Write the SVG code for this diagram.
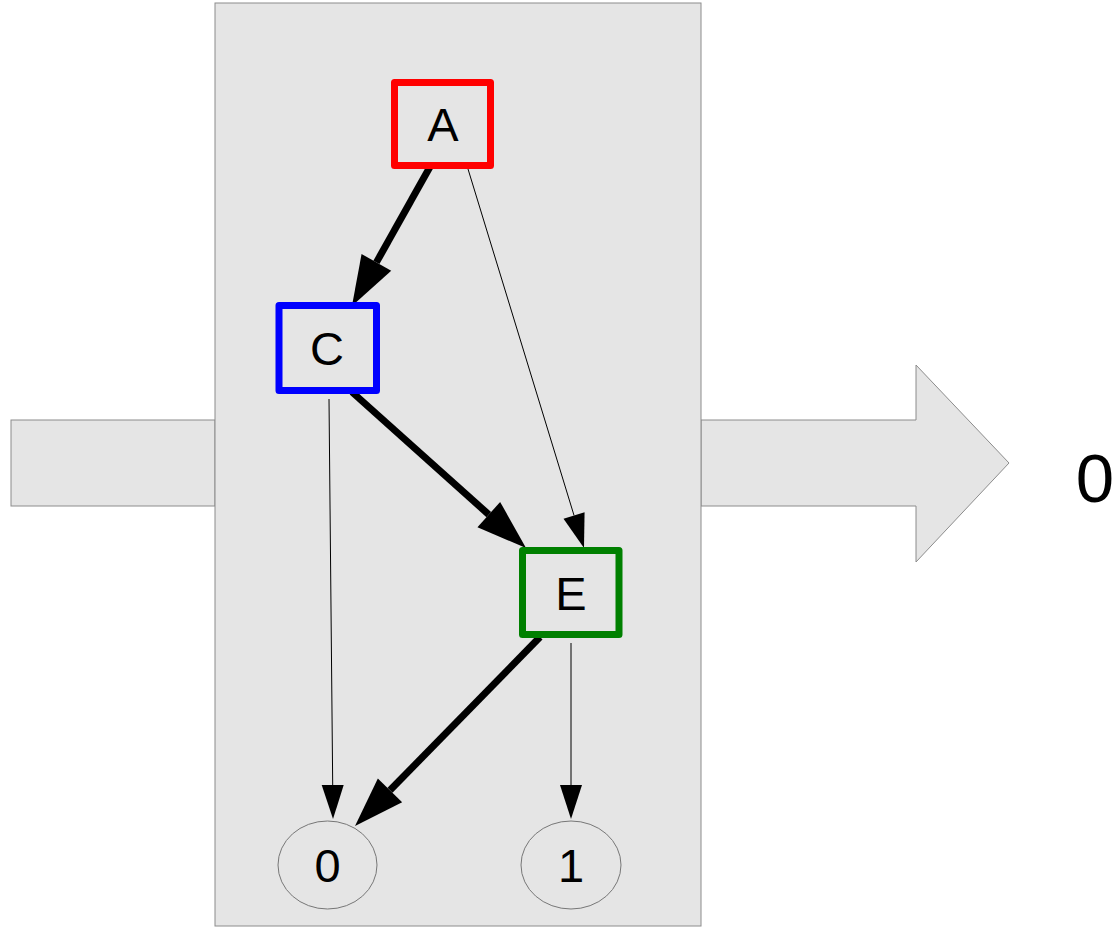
<svg xmlns="http://www.w3.org/2000/svg" width="1115" height="928" viewBox="0 0 1115 928">
<style>
.bg{fill:#e5e5e5;stroke:#8c8c8c;stroke-width:1}
.node{fill:#e5e5e5;stroke-width:7;stroke-linejoin:round}
.term{fill:#e5e5e5;stroke:#777;stroke-width:1}
.lbl{font-family:"Liberation Sans",Arial,sans-serif;font-size:47px;fill:#000;text-anchor:middle}
.thick{stroke:#000;stroke-width:7;fill:none;marker-end:url(#hThick)}
.thin{stroke:#000;stroke-width:1;fill:none;marker-end:url(#hThin)}
</style>
<defs>
<marker id="hThick" markerUnits="userSpaceOnUse" markerWidth="50" markerHeight="34" refX="0" refY="17" orient="auto" overflow="visible">
<path d="M0,0 L50,17 L0,34 z" fill="#000"/>
</marker>
<marker id="hThin" markerUnits="userSpaceOnUse" markerWidth="34" markerHeight="22" refX="0" refY="11" orient="auto" overflow="visible">
<path d="M0,0 L34,11 L0,22 z" fill="#000"/>
</marker>
</defs>
<rect x="0" y="0" width="1115" height="928" fill="#fff"/>
<g id="input-arrow">
<rect class="bg" x="11" y="420" width="204" height="86"/>
</g>
<g id="output-arrow">
<path class="bg" d="M701,420 L916,420 L916,365 L1009,463 L916,562 L916,506 L701,506 z"/>
</g>
<g id="panel">
<rect class="bg" x="215" y="3" width="486" height="923"/>
</g>
<g id="output-label">
<text x="1095" y="502" style="font-family:'Liberation Sans',Arial,sans-serif;font-size:69px;text-anchor:middle">0</text>
</g>
<g id="connectors">
<path class="thick" d="M431,165 L376.4,262.4"/>
<path class="thick" d="M352,392 L488.8,514.6"/>
<path class="thick" d="M540,637 L390,790.3"/>
<path class="thin" d="M468,169 L574.05,515.5"/>
<path class="thin" d="M329,399 L332.7,785"/>
<path class="thin" d="M571,643 L571,785"/>
</g>
<g id="node-A">
<rect class="node" x="394.5" y="82.5" width="96" height="83" stroke="#ff0000"/>
<text class="lbl" x="443" y="141">A</text>
</g>
<g id="node-C">
<rect class="node" x="279" y="305.5" width="97.5" height="85" stroke="#0000ff"/>
<text class="lbl" x="327" y="365">C</text>
</g>
<g id="node-E">
<rect class="node" x="522.5" y="550.5" width="96.5" height="84" stroke="#008000"/>
<text class="lbl" x="571" y="610">E</text>
</g>
<g id="node-0">
<ellipse class="term" cx="327.5" cy="865" rx="49.5" ry="44"/>
<text class="lbl" x="327.5" y="882">0</text>
</g>
<g id="node-1">
<ellipse class="term" cx="571" cy="865" rx="50" ry="44"/>
<text class="lbl" x="571" y="882">1</text>
</g>
</svg>
